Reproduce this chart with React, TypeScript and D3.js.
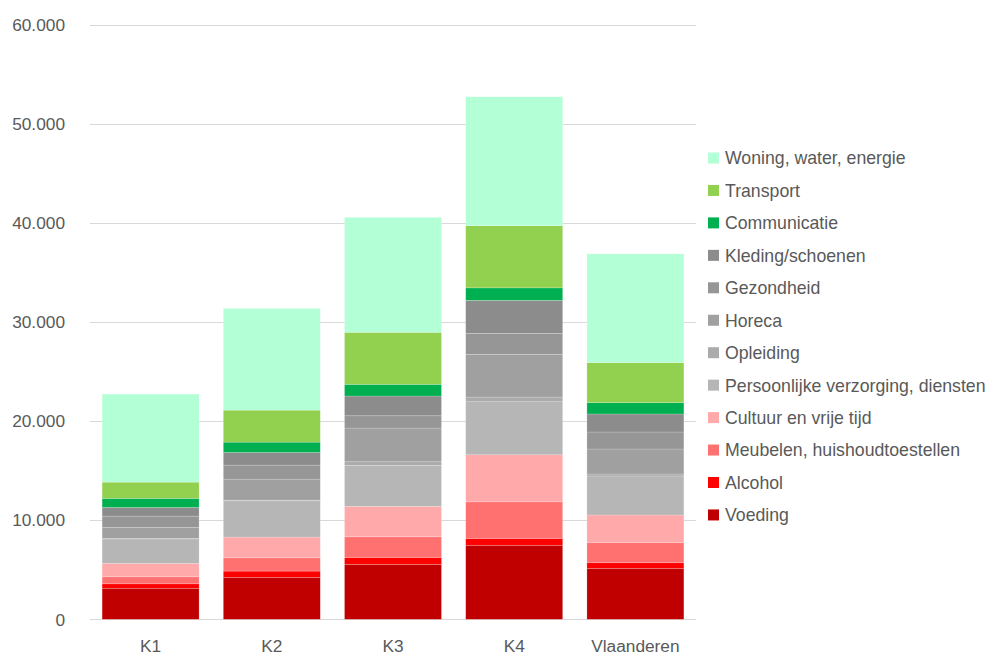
import React from "react";
import * as d3 from "d3";

const categories = ["K1", "K2", "K3", "K4", "Vlaanderen"];
const seriesNames = [
  "Voeding",
  "Alcohol",
  "Meubelen, huishoudtoestellen",
  "Cultuur en vrije tijd",
  "Persoonlijke verzorging, diensten",
  "Opleiding",
  "Horeca",
  "Gezondheid",
  "Kleding/schoenen",
  "Communicatie",
  "Transport",
  "Woning, water, energie",
];
const voeding = [3130, 4230, 5540, 7470, 5140];
const alcohol = [450, 635, 705, 690, 565];
const meubelen = [710, 1340, 2080, 3690, 2020];
const cultuur = [1350, 2090, 3070, 4750, 2800];
const persoonlijke = [2470, 3660, 4140, 5350, 3935];
const opleiding = [50, 70, 360, 470, 200];
const horeca = [1110, 2120, 3400, 4310, 2520];
const gezondheid = [1140, 1410, 1240, 2120, 1715];
const kleding = [880, 1280, 1990, 3330, 1820];
const communicatie = [910, 1040, 1180, 1260, 1140];
const transport = [1640, 3230, 5250, 6270, 4040];
const woning = [8880, 10260, 11600, 13010, 10970];
const seriesValues = [
  voeding, alcohol, meubelen, cultuur, persoonlijke, opleiding,
  horeca, gezondheid, kleding, communicatie, transport, woning,
];
const colors = [
  "#c00000", "#ff0000", "#ff7171", "#ffa9ab", "#b6b6b6", "#ababab",
  "#a0a0a0", "#969696", "#8c8c8c", "#00b050", "#92d050", "#b3ffd6",
];
const yTicks = [0, 10000, 20000, 30000, 40000, 50000, 60000];

const W = 987;
const H = 655;
const FONT = "'Liberation Sans', Arial, sans-serif";

export default function App() {
  const x = d3
    .scaleBand<string>()
    .domain(categories)
    .range([90, 696])
    .paddingInner(0.2)
    .paddingOuter(0.1);
  const y = d3.scaleLinear().domain([0, 60000]).range([619.3, 24.6]);

  const rows = categories.map((c, i) => {
    const r: Record<string, any> = { cat: c };
    seriesNames.forEach((s, j) => (r[s] = seriesValues[j][i]));
    return r;
  });
  const stacked = d3.stack<any>().keys(seriesNames)(rows);
  const fmt = (v: number) =>
    v === 0 ? "0" : d3.format(",")(v).replace(/,/g, ".");

  const legendOrder = [...seriesNames].map((s, i) => ({ s, c: colors[i] })).reverse();

  return (
    <div style={{ position: "absolute", left: 0, top: 0 }}>
      <svg width={W} height={H} style={{ display: "block", background: "#fff" }}>
        {yTicks.map((t) => (
          <g key={t}>
            <line
              x1={90}
              x2={696}
              y1={Math.round(y(t)) + 0.5}
              y2={Math.round(y(t)) + 0.5}
              stroke="#d9d9d9"
              strokeWidth={1}
            />
            <text
              x={65}
              y={y(t)}
              dy="0.36em"
              textAnchor="end"
              fontFamily={FONT}
              fontSize={17.3}
              fill="#595959"
            >
              {fmt(t)}
            </text>
          </g>
        ))}
        {stacked.map((layer, j) => (
          <g key={layer.key} fill={colors[j]}>
            {layer.map((d, i) => (
              <rect
                key={i}
                x={x(categories[i])}
                width={x.bandwidth()}
                y={y(d[1])}
                height={Math.max(0, y(d[0]) - y(d[1]))}
                stroke="#ffffff"
                strokeOpacity={0.3}
                strokeWidth={0.6}
              />
            ))}
          </g>
        ))}
        {categories.map((c) => (
          <text
            key={c}
            x={(x(c) as number) + x.bandwidth() / 2}
            y={646}
            dy="0.36em"
            textAnchor="middle"
            fontFamily={FONT}
            fontSize={17.3}
            fill="#595959"
          >
            {c}
          </text>
        ))}
        {legendOrder.map((l, i) => (
          <g key={l.s} transform={`translate(708, ${158 + i * 32.45})`}>
            <rect x={0} y={-5.5} width={11} height={11} fill={l.c} />
            <text
              x={17}
              y={0}
              dy="0.36em"
              fontFamily={FONT}
              fontSize={17.7}
              fill="#595959"
            >
              {l.s}
            </text>
          </g>
        ))}
      </svg>
    </div>
  );
}
